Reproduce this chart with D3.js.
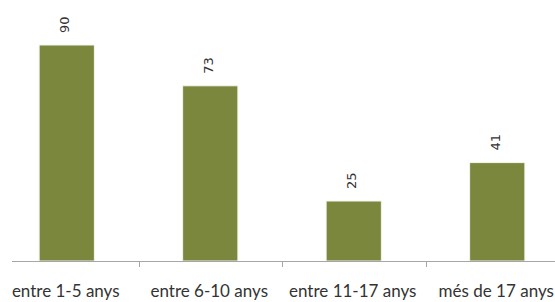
<!DOCTYPE html>
<html>
<head>
<meta charset="utf-8">
<script src="https://cdn.jsdelivr.net/npm/d3@7"></script>
<style>
  body { margin: 0; background: #fff; }
</style>
</head>
<body>
<div id="chart"></div>
<script>
// Data
const categories = ["entre 1-5 anys", "entre 6-10 anys", "entre 11-17 anys", "més de 17 anys"];
const values = [90, 73, 25, 41];

const W = 555, H = 302;
const baseY = 261;

const svg = d3.select("#chart")
    .append("svg")
    .attr("width", W)
    .attr("height", H);

// Scales (the plot is slightly cropped on the left in the original)
const x = d3.scaleBand()
    .domain(categories)
    .range([-5, 569])
    .paddingInner(0.615)
    .paddingOuter(0.3075);

const y = d3.scaleLinear()
    .domain([0, 100])
    .range([baseY, 21]);

// Bars
svg.append("g")
    .selectAll("rect")
    .data(values)
    .join("rect")
    .attr("x", (d, i) => x(categories[i]))
    .attr("y", d => y(d))
    .attr("width", x.bandwidth())
    .attr("height", d => y(0) - y(d))
    .style("fill", "#7a873d")
    .style("stroke", "#f4f4ee")
    .style("stroke-width", 1);

// Axis line + ticks between categories
const gap = x.step() * x.paddingInner() / 2;
svg.append("line")
    .attr("x1", 12).attr("x2", W)
    .attr("y1", baseY + 0.5).attr("y2", baseY + 0.5)
    .style("stroke", "#a6a6a6");

svg.append("g")
    .selectAll("line")
    .data(categories.slice(1))
    .join("line")
    .attr("x1", d => Math.round(x(d) - gap) + 0.5)
    .attr("x2", d => Math.round(x(d) - gap) + 0.5)
    .attr("y1", baseY)
    .attr("y2", baseY + 6)
    .style("stroke", "#a6a6a6");

// Category labels
svg.append("g")
    .selectAll("text")
    .data(categories)
    .join("text")
    .attr("x", d => x(d) + x.bandwidth() / 2 - 1)
    .attr("y", 297)
    .attr("text-anchor", "middle")
    .style("font-family", "Lato, sans-serif")
    .style("font-size", "17px")
    .style("fill", "#333")
    .text(d => d);

// Value labels (rotated)
svg.append("g")
    .selectAll("text")
    .data(values)
    .join("text")
    .attr("transform", (d, i) => `translate(${x(categories[i]) + x.bandwidth() / 2 - 2},${y(d) - 12}) rotate(-90)`)
    .attr("dy", "0.35em")
    .attr("text-anchor", "start")
    .style("font-family", "'DejaVu Sans', sans-serif")
    .style("font-size", "13px")
    .style("fill", "#333")
    .text(d => d);
</script>
</body>
</html>
